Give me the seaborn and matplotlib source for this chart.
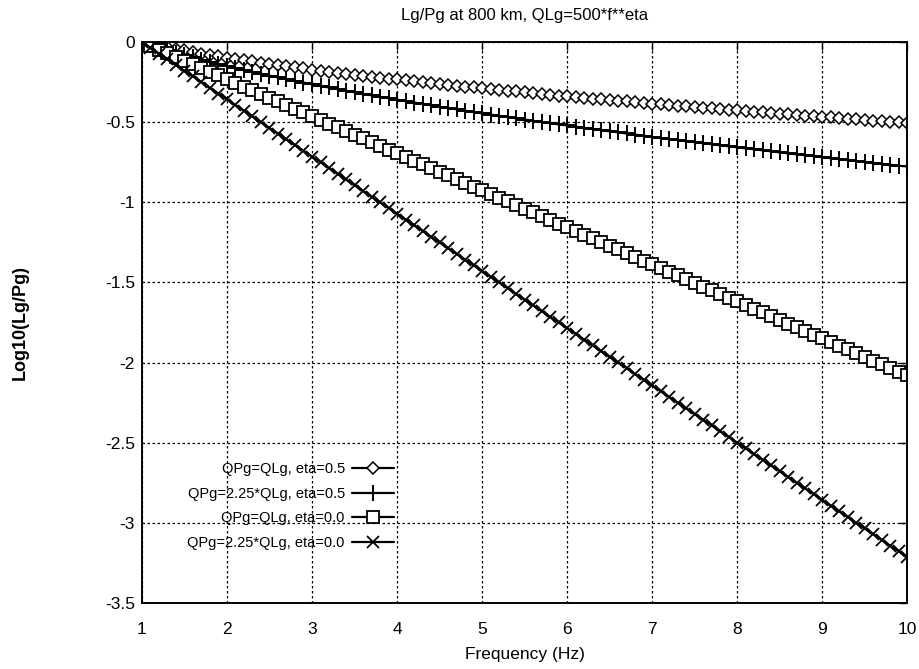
import numpy as np
import pandas as pd
import matplotlib
matplotlib.use("Agg")
import matplotlib.pyplot as plt
import seaborn as sns

# ---------------- data ----------------
freq = [round(1.0 + 0.1 * i, 1) for i in range(91)]

qpg_eq_eta05 = [
    0.000, -0.011, -0.022, -0.033, -0.043, -0.052, -0.062, -0.071, -0.080, -0.088,
    -0.097, -0.105, -0.113, -0.120, -0.128, -0.135, -0.143, -0.150, -0.157, -0.164,
    -0.171, -0.177, -0.184, -0.190, -0.197, -0.203, -0.209, -0.215, -0.221, -0.227,
    -0.233, -0.239, -0.245, -0.250, -0.256, -0.261, -0.267, -0.272, -0.277, -0.283,
    -0.288, -0.293, -0.298, -0.303, -0.308, -0.313, -0.318, -0.323, -0.328, -0.333,
    -0.338, -0.342, -0.347, -0.352, -0.356, -0.361, -0.366, -0.370, -0.375, -0.379,
    -0.383, -0.388, -0.392, -0.397, -0.401, -0.405, -0.409, -0.414, -0.418, -0.422,
    -0.426, -0.430, -0.434, -0.438, -0.442, -0.446, -0.450, -0.454, -0.458, -0.462,
    -0.466, -0.470, -0.474, -0.478, -0.481, -0.485, -0.489, -0.493, -0.496, -0.500,
    -0.504]

qpg_225_eta05 = [
    0.000, -0.018, -0.034, -0.050, -0.066, -0.081, -0.095, -0.109, -0.123, -0.136,
    -0.149, -0.161, -0.173, -0.185, -0.197, -0.209, -0.220, -0.231, -0.242, -0.252,
    -0.263, -0.273, -0.283, -0.293, -0.303, -0.313, -0.322, -0.332, -0.341, -0.350,
    -0.359, -0.368, -0.377, -0.385, -0.394, -0.403, -0.411, -0.419, -0.428, -0.436,
    -0.444, -0.452, -0.460, -0.467, -0.475, -0.483, -0.491, -0.498, -0.506, -0.513,
    -0.520, -0.528, -0.535, -0.542, -0.549, -0.556, -0.563, -0.570, -0.577, -0.584,
    -0.591, -0.598, -0.604, -0.611, -0.618, -0.624, -0.631, -0.637, -0.644, -0.650,
    -0.656, -0.663, -0.669, -0.675, -0.681, -0.688, -0.694, -0.700, -0.706, -0.712,
    -0.718, -0.724, -0.730, -0.736, -0.742, -0.748, -0.753, -0.759, -0.765, -0.771,
    -0.776]

qpg_eq_eta00 = [
    0.000, -0.023, -0.046, -0.069, -0.092, -0.116, -0.139, -0.162, -0.185, -0.208,
    -0.231, -0.254, -0.277, -0.300, -0.323, -0.347, -0.370, -0.393, -0.416, -0.439,
    -0.462, -0.485, -0.508, -0.531, -0.554, -0.578, -0.601, -0.624, -0.647, -0.670,
    -0.693, -0.716, -0.739, -0.762, -0.785, -0.809, -0.832, -0.855, -0.878, -0.901,
    -0.924, -0.947, -0.970, -0.993, -1.016, -1.040, -1.063, -1.086, -1.109, -1.132,
    -1.155, -1.178, -1.201, -1.224, -1.247, -1.271, -1.294, -1.317, -1.340, -1.363,
    -1.386, -1.409, -1.432, -1.455, -1.478, -1.502, -1.525, -1.548, -1.571, -1.594,
    -1.617, -1.640, -1.663, -1.686, -1.709, -1.733, -1.756, -1.779, -1.802, -1.825,
    -1.848, -1.871, -1.894, -1.917, -1.940, -1.964, -1.987, -2.010, -2.033, -2.056,
    -2.079]

qpg_225_eta00 = [
    0.000, -0.036, -0.071, -0.107, -0.143, -0.179, -0.214, -0.250, -0.286, -0.321,
    -0.357, -0.393, -0.428, -0.464, -0.500, -0.536, -0.571, -0.607, -0.643, -0.678,
    -0.714, -0.750, -0.785, -0.821, -0.857, -0.893, -0.928, -0.964, -1.000, -1.035,
    -1.071, -1.107, -1.142, -1.178, -1.214, -1.250, -1.285, -1.321, -1.357, -1.392,
    -1.428, -1.464, -1.499, -1.535, -1.571, -1.607, -1.642, -1.678, -1.714, -1.749,
    -1.785, -1.821, -1.856, -1.892, -1.928, -1.964, -1.999, -2.035, -2.071, -2.106,
    -2.142, -2.178, -2.213, -2.249, -2.285, -2.321, -2.356, -2.392, -2.428, -2.463,
    -2.499, -2.535, -2.570, -2.606, -2.642, -2.678, -2.713, -2.749, -2.785, -2.820,
    -2.856, -2.892, -2.927, -2.963, -2.999, -3.035, -3.070, -3.106, -3.142, -3.177,
    -3.213]

series_labels = ["QPg=QLg, eta=0.5", "QPg=2.25*QLg, eta=0.5",
                 "QPg=QLg, eta=0.0", "QPg=2.25*QLg, eta=0.0"]
series_values = [qpg_eq_eta05, qpg_225_eta05, qpg_eq_eta00, qpg_225_eta00]

x_ticks = [1, 2, 3, 4, 5, 6, 7, 8, 9, 10]
y_ticks = [0, -0.5, -1, -1.5, -2, -2.5, -3, -3.5]
y_tick_labels = ["0", "-0.5", "-1", "-1.5", "-2", "-2.5", "-3", "-3.5"]

title = "Lg/Pg at 800 km, QLg=500*f**eta"
x_label = "Frequency (Hz)"
y_label = "Log10(Lg/Pg)"

# ---------------- plotting ----------------
sns.set_theme(style="white")
plt.rcParams["font.family"] = ["Liberation Sans", "DejaVu Sans"]

fig = plt.figure(figsize=(9.19, 6.69), dpi=100)
ax = fig.add_axes([0.1545, 0.0987, 0.8325, 0.8383])

styles = [
    dict(marker="D", markersize=6.5, markerfacecolor="white", markeredgewidth=1.1),
    dict(marker="+", markersize=11, markeredgewidth=1.4),
    dict(marker="s", markersize=8, markerfacecolor="white", markeredgewidth=1.3),
    dict(marker="x", markersize=9, markeredgewidth=1.3),
]

for lab, vals, st in zip(series_labels, series_values, styles):
    df = pd.DataFrame({"f": freq, "v": vals})
    sns.lineplot(data=df, x="f", y="v", ax=ax, color="black", linewidth=1.6,
                 markeredgecolor="black", label=lab, **st)

ax.set_xlim(1, 10)
ax.set_ylim(-3.5, 0)
ax.set_xticks(x_ticks)
ax.set_xticklabels([str(t) for t in x_ticks])
ax.set_yticks(y_ticks)
ax.set_yticklabels(y_tick_labels)

ax.grid(True, color="black", linestyle=(0, (2, 2)), linewidth=0.9)
ax.tick_params(axis="both", direction="in", length=6, width=1.0, color="black",
               top=True, right=True, labelsize=12.5, labelcolor="black")
ax.tick_params(axis="x", pad=14)
ax.tick_params(axis="y", pad=5)
for sp in ax.spines.values():
    sp.set_visible(True)
    sp.set_color("black")
    sp.set_linewidth(1.4)

ax.set_title(title, fontsize=12, color="black", pad=16)
ax.set_xlabel(x_label, fontsize=12.5, color="black", labelpad=7)
ax.set_ylabel(y_label, fontsize=13, color="black", fontweight="bold")
ax.yaxis.set_label_coords(-0.148, 0.5)

leg = ax.legend(loc="lower right", bbox_to_anchor=(0.33, 0.095), frameon=False,
                markerfirst=False, fontsize=10.5, handlelength=2.9,
                handletextpad=0.5, labelspacing=0.72, borderaxespad=0.0,
                borderpad=0.0)
for t in leg.get_texts():
    t.set_color("black")

fig.savefig("out.png", dpi=100, facecolor="white")
